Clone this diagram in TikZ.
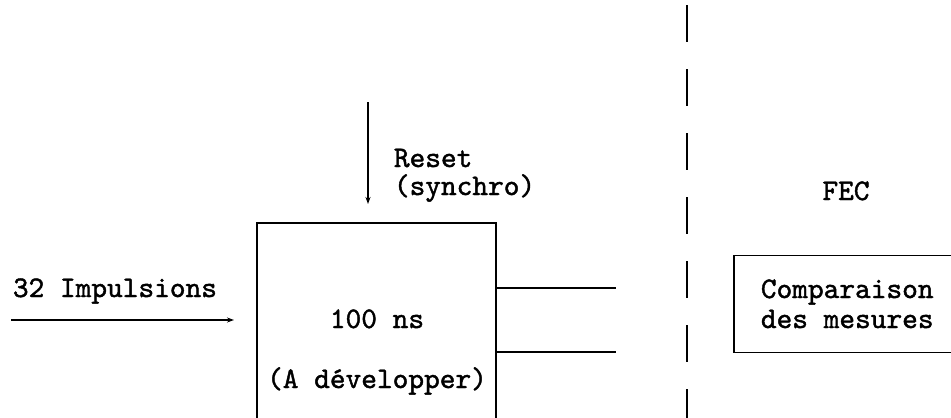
\documentclass[tikz,border=0pt]{standalone}
\usepackage{fontspec}
\setmonofont{lmmono10-regular.otf}[FakeBold=1.4]
\usetikzlibrary{arrows.meta}
\tikzset{
  lbl/.style={inner sep=0pt, anchor=base west},
  lblc/.style={inner sep=0pt, anchor=base},
  blk/.style={draw, inner sep=0pt},
  sig/.style={-{Stealth[length=7bp,width=5bp]}},
  wire/.style={},
  sep/.style={dash pattern=on 37bp off 27bp}
}
\begin{document}
\begin{tikzpicture}[x=1bp,y=-1bp,line width=1.8bp,font=\ttfamily\fontsize{29.9bp}{34bp}\selectfont]
\useasboundingbox (0,0) rectangle (951,417);
\clip (0,0) rectangle (951,417);
% main block (cut off at bottom)
\node[blk, minimum width=239bp, minimum height=230bp] (main) at (376.5,338) {};
\node[lblc] (t100) at (377,328) {100 ns};
\node[lblc] (tdev) at (377,388) {(A développer)};
% input
\coordinate (inA) at (11,320);
\coordinate (inB) at (234,320);
\draw[sig] (inA) -- (inB);
\node[lbl] (timp) at (12,297) {32 Impulsions};
% reset
\coordinate (rsA) at (368,102);
\coordinate (rsB) at (368,204);
\draw[sig] (rsA) -- (rsB);
\node[lbl] (treset) at (393,167) {Reset};
\node[lbl] (tsync) at (393,195) {(synchro)};
% outputs
\coordinate (o1) at (616,288);
\coordinate (o2) at (616,352);
\draw[wire] (main.east |- o1) -- (o1);
\draw[wire] (main.east |- o2) -- (o2);
% separator
\coordinate (sA) at (687,5);
\coordinate (sB) at (687,430);
\draw[sep] (sA) -- (sB);
% FEC
\node[lblc] (tfec) at (846,200) {FEC};
\node[blk, minimum width=260bp, minimum height=97bp] (cmp) at (864,304) {};
\node[lbl] (tc1) at (760,298) {Comparaison};
\node[lbl] (tc2) at (760,328) {des mesures};
\end{tikzpicture}
\end{document}
